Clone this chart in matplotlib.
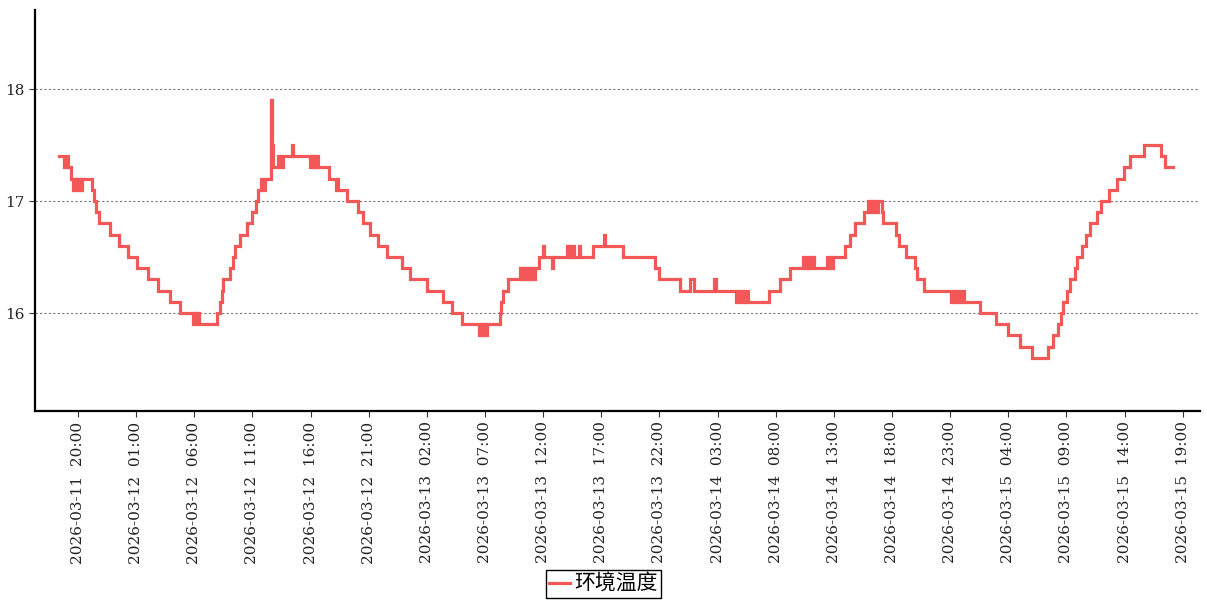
import numpy as np
import pandas as pd
import matplotlib
matplotlib.use("Agg")
import matplotlib.pyplot as plt
import matplotlib.dates as mdates

plt.rcParams['font.family'] = ['DejaVu Serif', 'Noto Sans CJK SC']

# change points of the step series (year 2026)
times = [
    "03-11 18:23", "03-11 18:49", "03-11 19:03", "03-11 19:09", "03-11 19:22",
    "03-11 19:34", "03-11 19:41", "03-11 19:48", "03-11 19:55", "03-11 20:02",
    "03-11 20:09", "03-11 20:15", "03-11 20:21", "03-11 21:11", "03-11 21:24",
    "03-11 21:33", "03-11 21:50", "03-11 22:45", "03-11 23:33",
    "03-12 00:19", "03-12 01:06", "03-12 02:00", "03-12 02:54", "03-12 03:55",
    "03-12 04:46", "03-12 05:52", "03-12 06:00", "03-12 06:08", "03-12 06:16",
    "03-12 06:24", "03-12 07:56", "03-12 08:13", "03-12 08:21", "03-12 08:30",
    "03-12 09:04", "03-12 09:20", "03-12 09:30", "03-12 09:56", "03-12 10:30",
    "03-12 10:56", "03-12 11:18", "03-12 11:29", "03-12 11:44", "03-12 11:49",
    "03-12 12:05", "03-12 12:38", "03-12 12:42", "03-12 12:48", "03-12 13:13",
    "03-12 13:19", "03-12 13:25", "03-12 13:31", "03-12 13:37", "03-12 14:22",
    "03-12 14:30", "03-12 15:57", "03-12 16:04", "03-12 16:11", "03-12 16:18",
    "03-12 16:25", "03-12 16:32", "03-12 16:39", "03-12 17:33", "03-12 18:11",
    "03-12 18:16", "03-12 18:21", "03-12 19:09", "03-12 20:03", "03-12 20:29",
    "03-12 21:06", "03-12 21:49", "03-12 22:33", "03-12 23:50",
    "03-13 00:33", "03-13 01:59", "03-13 03:21", "03-13 04:11", "03-13 04:59",
    "03-13 06:30", "03-13 06:38", "03-13 06:46", "03-13 06:54", "03-13 07:02",
    "03-13 07:10", "03-13 08:17", "03-13 08:21", "03-13 08:34", "03-13 08:57",
    "03-13 10:00", "03-13 10:08", "03-13 10:16", "03-13 10:24", "03-13 10:32",
    "03-13 10:40", "03-13 10:48", "03-13 10:56", "03-13 11:04", "03-13 11:09",
    "03-13 11:20", "03-13 11:40", "03-13 11:57", "03-13 12:02", "03-13 12:47",
    "03-13 12:52", "03-13 14:01", "03-13 14:09", "03-13 14:17", "03-13 14:25",
    "03-13 14:33", "03-13 14:41", "03-13 15:06", "03-13 15:11", "03-13 16:18",
    "03-13 17:15", "03-13 17:20", "03-13 18:50", "03-13 21:37", "03-13 21:59",
    "03-13 23:45",
    "03-14 00:37", "03-14 00:58", "03-14 02:42", "03-14 02:51", "03-14 04:34",
    "03-14 04:42", "03-14 04:50", "03-14 04:58", "03-14 05:06", "03-14 05:14",
    "03-14 05:22", "03-14 05:30", "03-14 05:38", "03-14 07:26", "03-14 08:21",
    "03-14 09:13", "03-14 10:19", "03-14 10:27", "03-14 10:35", "03-14 10:43",
    "03-14 10:51", "03-14 10:59", "03-14 11:07", "03-14 11:15", "03-14 12:26",
    "03-14 12:34", "03-14 12:42", "03-14 12:50", "03-14 12:58", "03-14 13:57",
    "03-14 14:23", "03-14 14:49", "03-14 15:35", "03-14 15:57", "03-14 16:04",
    "03-14 16:11", "03-14 16:18", "03-14 16:24", "03-14 16:40", "03-14 16:47",
    "03-14 17:06", "03-14 17:14", "03-14 18:23", "03-14 18:37", "03-14 19:11",
    "03-14 19:58", "03-14 20:07", "03-14 20:44", "03-14 23:07", "03-14 23:14",
    "03-14 23:21", "03-14 23:28", "03-14 23:35", "03-14 23:42", "03-14 23:49",
    "03-15 00:07", "03-15 00:13", "03-15 01:33", "03-15 02:58", "03-15 03:59",
    "03-15 05:00", "03-15 06:00", "03-15 07:26", "03-15 07:52", "03-15 08:14",
    "03-15 08:31", "03-15 08:43", "03-15 09:01", "03-15 09:18", "03-15 09:44",
    "03-15 09:55", "03-15 10:18", "03-15 10:39", "03-15 11:01", "03-15 11:36",
    "03-15 12:01", "03-15 12:39", "03-15 13:19", "03-15 13:58", "03-15 14:27",
    "03-15 15:39", "03-15 17:06", "03-15 17:28", "03-15 18:11",
]
temps = [
    17.4, 17.3, 17.4, 17.3, 17.2,
    17.1, 17.2, 17.1, 17.2, 17.1,
    17.2, 17.1, 17.2, 17.1, 17.0,
    16.9, 16.8, 16.7, 16.6,
    16.5, 16.4, 16.3, 16.2, 16.1,
    16.0, 15.9, 16.0, 15.9, 16.0,
    15.9, 16.0, 16.1, 16.2, 16.3,
    16.4, 16.5, 16.6, 16.7, 16.8,
    16.9, 17.0, 17.1, 17.2, 17.1,
    17.2, 17.9, 17.5, 17.3, 17.4,
    17.3, 17.4, 17.3, 17.4, 17.5,
    17.4, 17.3, 17.4, 17.3, 17.4,
    17.3, 17.4, 17.3, 17.2, 17.1,
    17.2, 17.1, 17.0, 16.9, 16.8,
    16.7, 16.6, 16.5, 16.4,
    16.3, 16.2, 16.1, 16.0, 15.9,
    15.8, 15.9, 15.8, 15.9, 15.8,
    15.9, 16.0, 16.1, 16.2, 16.3,
    16.4, 16.3, 16.4, 16.3, 16.4,
    16.3, 16.4, 16.3, 16.4, 16.3,
    16.4, 16.5, 16.6, 16.5, 16.4,
    16.5, 16.6, 16.5, 16.6, 16.5,
    16.6, 16.5, 16.6, 16.5, 16.6,
    16.7, 16.6, 16.5, 16.4, 16.3,
    16.2,
    16.3, 16.2, 16.3, 16.2, 16.1,
    16.2, 16.1, 16.2, 16.1, 16.2,
    16.1, 16.2, 16.1, 16.2, 16.3,
    16.4, 16.5, 16.4, 16.5, 16.4,
    16.5, 16.4, 16.5, 16.4, 16.5,
    16.4, 16.5, 16.4, 16.5, 16.6,
    16.7, 16.8, 16.9, 17.0, 16.9,
    17.0, 16.9, 17.0, 16.9, 17.0,
    16.9, 16.8, 16.7, 16.6, 16.5,
    16.4, 16.3, 16.2, 16.1, 16.2,
    16.1, 16.2, 16.1, 16.2, 16.1,
    16.2, 16.1, 16.0, 15.9, 15.8,
    15.7, 15.6, 15.7, 15.8, 15.9,
    16.0, 16.1, 16.2, 16.3, 16.4,
    16.5, 16.6, 16.7, 16.8, 16.9,
    17.0, 17.1, 17.2, 17.3, 17.4,
    17.5, 17.4, 17.3, 17.3,
]
series_name = "环境温度"
tick_start, tick_end = "2026-03-11 20:00", "2026-03-15 19:00"

t = pd.to_datetime(["2026-" + s for s in times])

fig = plt.figure(figsize=(12.07, 6.0), dpi=100)
ax = fig.add_axes([0.029, 0.315, 0.965, 0.668])

ax.plot(t, temps, drawstyle='steps-post', color='#f35757', lw=2.3,
        label=series_name, solid_joinstyle='miter')

ax.set_xlim(pd.Timestamp("2026-03-11 16:18"), pd.Timestamp("2026-03-15 20:28"))
ax.set_ylim(15.125, 18.705)
ax.set_yticks([16, 17, 18])
ax.yaxis.grid(True, linestyle=(0, (2, 2)), color='#777777', lw=0.8)
ax.set_axisbelow(True)

xt = pd.date_range(tick_start, tick_end, freq='5h')
ax.set_xticks(xt)
ax.xaxis.set_major_formatter(mdates.DateFormatter('%Y-%m-%d  %H:%M'))
plt.setp(ax.get_xticklabels(), rotation=90, ha='center', va='top')
ax.tick_params(axis='both', labelsize=11, color='#333333', length=4,
               labelcolor='#222222')

for s in ['top', 'right']:
    ax.spines[s].set_visible(False)
for s in ['left', 'bottom']:
    ax.spines[s].set_linewidth(1.6)
    ax.spines[s].set_color('black')

leg = fig.legend(loc='lower center', bbox_to_anchor=(0.5, 0.003),
                 prop={'family': ['Noto Sans CJK SC'], 'size': 15},
                 fancybox=False, framealpha=1, edgecolor='black',
                 handlelength=1.0, handletextpad=0.2, borderpad=0.15,
                 borderaxespad=0)
leg.get_frame().set_linewidth(1.0)

fig.savefig("out.png", dpi=100)
